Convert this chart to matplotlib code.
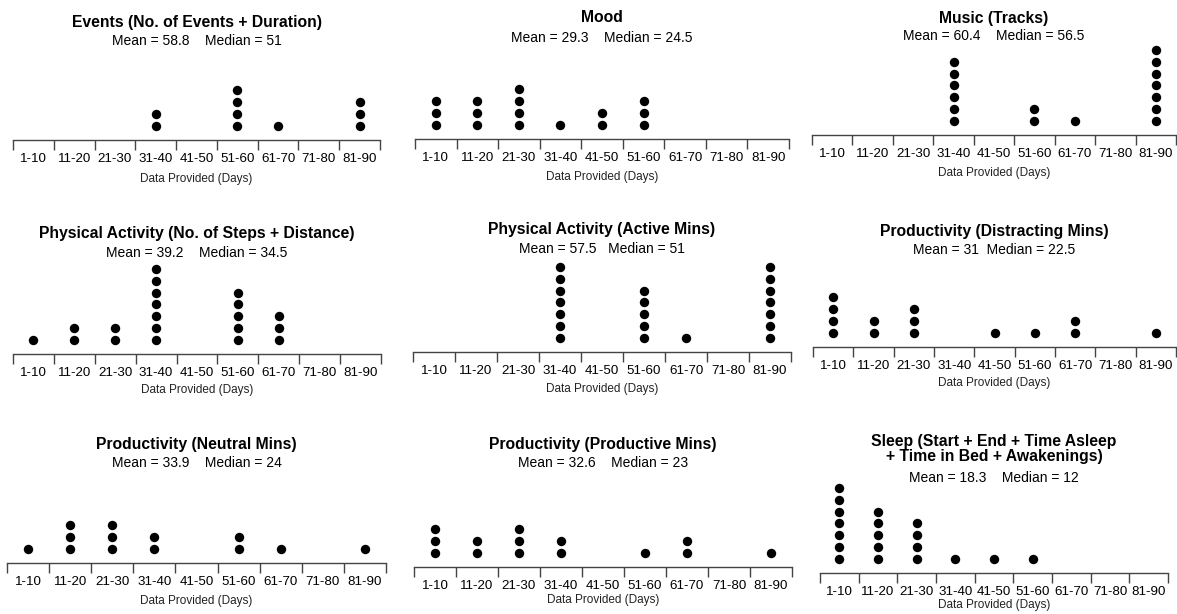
import numpy as np
import matplotlib
matplotlib.use("Agg")
import matplotlib.pyplot as plt

plt.rcParams['font.family'] = ['Liberation Sans', 'DejaVu Sans']

# ---- data -------------------------------------------------------------
bins = ["1-10", "11-20", "21-30", "31-40", "41-50", "51-60", "61-70", "71-80", "81-90"]

titles = [
    "Events (No. of Events + Duration)",
    "Mood",
    "Music (Tracks)",
    "Physical Activity (No. of Steps + Distance)",
    "Physical Activity (Active Mins)",
    "Productivity (Distracting Mins)",
    "Productivity (Neutral Mins)",
    "Productivity (Productive Mins)",
    "Sleep (Start + End + Time Asleep\n+ Time in Bed + Awakenings)",
]
means = ["58.8", "29.3", "60.4", "39.2", "57.5", "31", "33.9", "32.6", "18.3"]
medians = ["51", "24.5", "56.5", "34.5", "51", "22.5", "24", "23", "12"]

events_counts = [0, 0, 0, 2, 0, 4, 1, 0, 3]
mood_counts = [3, 3, 4, 1, 2, 3, 0, 0, 0]
music_counts = [0, 0, 0, 6, 0, 2, 1, 0, 7]
steps_counts = [1, 2, 2, 7, 0, 5, 3, 0, 0]
active_counts = [0, 0, 0, 7, 0, 5, 1, 0, 7]
distracting_counts = [4, 2, 3, 0, 1, 1, 2, 0, 1]
neutral_counts = [1, 3, 3, 2, 0, 2, 1, 0, 1]
productive_counts = [3, 2, 3, 2, 0, 1, 2, 0, 1]
sleep_counts = [7, 5, 4, 1, 1, 1, 0, 0, 0]

all_counts = [events_counts, mood_counts, music_counts,
              steps_counts, active_counts, distracting_counts,
              neutral_counts, productive_counts, sleep_counts]

# ---- layout (pixels) ---------------------------------------------------
W, H = 1177, 614
# x_left, x_right, axis line y, title y, subtitle y, gap spaces, x-label drop
layout = [
    (13, 380, 140, 21, 40, 4, 39),
    (415, 789, 139, 17, 37, 4, 38),
    (812, 1176, 135, 17, 35, 4, 38),
    (13, 381, 354, 232, 252, 4, 36),
    (413, 791, 352, 228, 248, 3, 37),
    (813, 1176, 347, 230, 249, 2, 36),
    (7, 386, 563, 443, 462, 4, 38),
    (414, 792, 567, 443, 462, 4, 33),
    (820, 1168, 573, 449, 477, 4, 32),
]

DOT_STEP = 11.8     # pixels per stacked dot
AX_H = 110          # axes height in pixels
LINE_COL = "#444444"

fig = plt.figure(figsize=(W / 100, H / 100), dpi=100)


def fx(x):
    return x / W


def fy(y):
    return 1 - y / H


for counts, title, mean, median, (x0, x1, ay, ty, sy, gap, xl) in zip(
        all_counts, titles, means, medians, layout):
    ax = fig.add_axes([fx(x0), fy(ay), (x1 - x0) / W, AX_H / H])
    ax.set_xlim(0, len(bins))
    ax.set_ylim(0, AX_H / DOT_STEP)
    ax.patch.set_visible(False)

    for i, n in enumerate(counts):
        if n:
            ax.scatter(np.full(n, i + 0.5), np.arange(1, n + 1) + 0.2,
                       s=46, color="black", linewidths=0, zorder=3)

    for side in ("left", "right", "top"):
        ax.spines[side].set_visible(False)
    ax.spines["bottom"].set_color(LINE_COL)
    ax.spines["bottom"].set_linewidth(1.0)
    ax.set_yticks([])

    ax.set_xticks(np.arange(len(bins) + 1))
    ax.set_xticklabels([])
    ax.tick_params(axis="x", which="major", direction="out", length=7.5,
                   width=1.0, color=LINE_COL)
    ax.set_xticks(np.arange(len(bins)) + 0.5, minor=True)
    ax.set_xticklabels(bins, minor=True, fontsize=9.6)
    ax.tick_params(axis="x", which="minor", length=0, pad=9.6)

    ax.set_xlabel("Data Provided (Days)", fontsize=8.5, color="#222222")
    ax.xaxis.label.set_va("center")
    ax.xaxis.set_label_coords(0.5, -xl / AX_H)

    cx = fx((x0 + x1) / 2)
    if "\n" in title:
        fig.text(cx, fy(ty), title, ha="center", va="center",
                 fontsize=11.3, fontweight="bold", linespacing=1.05)
    else:
        fig.text(cx, fy(ty + 5.5), title, ha="center", va="baseline",
                 fontsize=11.3, fontweight="bold")
    fig.text(cx, fy(sy + 5), f"Mean = {mean}" + " " * gap + f"Median = {median}",
             ha="center", va="baseline", fontsize=10)

fig.savefig("out.png", dpi=100, facecolor="white")
